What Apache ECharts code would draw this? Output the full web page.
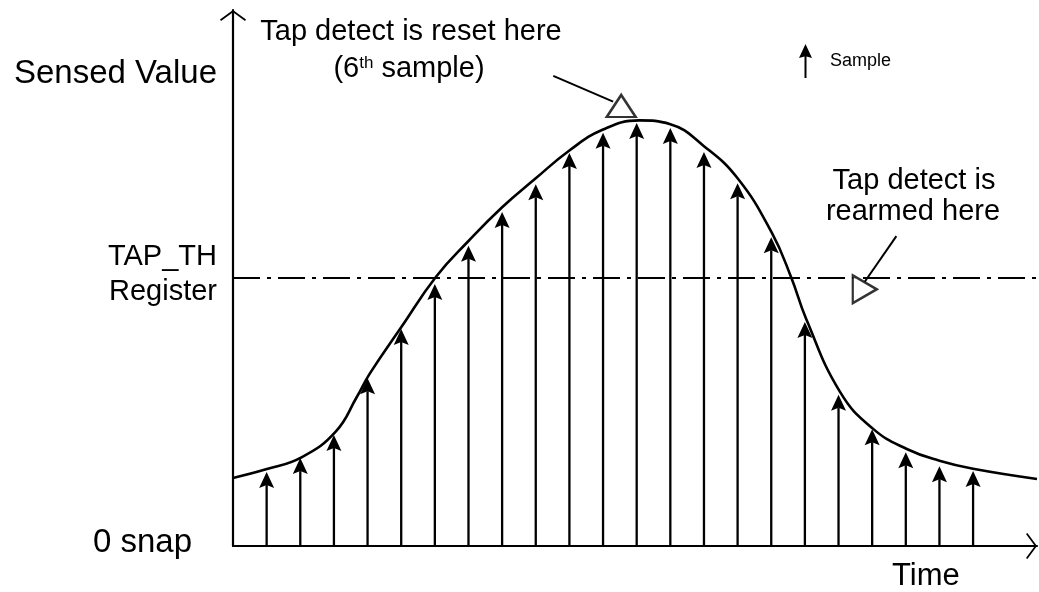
<!DOCTYPE html>
<html>
<head>
<meta charset="utf-8">
<title>Tap detect</title>
<script src="https://cdn.jsdelivr.net/npm/echarts@6/dist/echarts.min.js"></script>
<style>
  html, body { margin: 0; padding: 0; background: #fff; }
  #main { width: 1039px; height: 592px; }
</style>
</head>
<body>
<div id="main"></div>
<script>
    // samples (time index) and sensed value at arrow tip, 0..100 scale
    var sampleX = [1, 2, 3, 4, 5, 6, 7, 8, 9, 10, 11, 12, 13, 14, 15, 16, 17, 18, 19, 20, 21, 22]
    var sampleY = [13.8, 16.4, 20.7, 31.3, 40.5, 48.9, 56.0, 62.3, 67.5, 73.3, 77.1, 78.9,
                   78.0, 73.5, 67.7, 57.6, 41.8, 28.2, 21.8, 17.5, 14.9, 14.0]

    // the continuous sensed signal
    var curveX = [0, 0.98, 2.05, 3.06, 3.68, 4.07, 5.02, 6.03, 7.0, 8.0, 9.0, 10.0, 11.0,
                  12.07, 13.0, 14.0, 15.0, 16.02, 16.6, 17.03, 18.04, 19.02, 20.03, 21.0, 22.0, 23.9]
    var curveY = [12.7, 14.3, 16.6, 21.4, 27.8, 32.2, 41.0, 50.2, 56.9, 63.2, 68.6, 73.8, 77.7,
                  79.4, 78.7, 74.6, 68.6, 58.4, 50.0, 42.5, 28.8, 21.9, 18.1, 15.9, 14.4, 12.5]

    var TAP_TH = 50

    // annotation markers (open triangles) and their leader lines
    var triX = [11.54, 18.78]
    var triY = [82.1, 47.9]
    var triRot = [0, -90]
    var triSize = [[29, 22], [28, 24]]
    var leaderFrom = [[9.52, 87.7], [19.72, 57.8]]
    var leaderTo = [[11.30, 82.9], [18.78, 49.3]]

    var FONT = 'Liberation Sans, Arial, sans-serif'
    var CHEVRON = 'path://M13,0 L26,9.6 L25,11 L13,2.2 L1,11 L0,9.6 Z'
    var ARROW_ICON = 'path://M6.5,0 L13,14 L7.5,12.5 L7.5,34 L5.5,34 L5.5,12.5 L0,14 Z'

    var myChart = echarts.init(document.getElementById('main'))

    var samples = sampleX.map(function (x, i) { return [x, sampleY[i]] })
    var curve = curveX.map(function (x, i) { return [x, curveY[i]] })
    var tris = triX.map(function (x, i) {
        return { value: [x, triY[i]], symbolRotate: triRot[i], symbolSize: triSize[i] }
    })
    var leaders = leaderFrom.map(function (p, i) { return { coords: [p, leaderTo[i]] } })

    function txt(text, x, y, size, align) {
        return {
            type: 'text', x: x, y: y, silent: true,
            style: { text: text, fontSize: size, fontFamily: FONT, fill: '#000',
                     align: align, verticalAlign: 'middle' }
        }
    }

    var option = {
        animation: false,
        backgroundColor: '#fff',
        grid: { left: 233, right: 2, top: 10, bottom: 46 },
        xAxis: {
            type: 'value', min: 0, max: 23.9,
            axisLine: { lineStyle: { color: '#000', width: 2.2 },
                        symbol: ['none', CHEVRON], symbolSize: [26, 11], symbolOffset: [0, -5.5] },
            axisTick: { show: false }, axisLabel: { show: false }, splitLine: { show: false }
        },
        yAxis: {
            type: 'value', min: 0, max: 100,
            axisLine: { show: true, lineStyle: { color: '#000', width: 2.2 },
                        symbol: ['none', CHEVRON], symbolSize: [26, 11], symbolOffset: [0, -5.5] },
            axisTick: { show: false }, axisLabel: { show: false }, splitLine: { show: false }
        },
        legend: {
            data: [{ name: 'Sample', icon: ARROW_ICON }],
            left: 794, top: 39, itemWidth: 39, itemHeight: 34,
            selectedMode: false,
            textStyle: { fontSize: 18, fontFamily: FONT, color: '#000' }
        },
        series: [
            {
                name: 'Sensed',
                type: 'line',
                data: curve,
                smooth: 0.45,
                showSymbol: false,
                silent: true,
                lineStyle: { color: '#000', width: 2.6 },
                markLine: {   // TAP_TH register level
                    silent: true,
                    symbol: ['none', 'none'],
                    label: { show: false },
                    lineStyle: { color: '#000', width: 2, type: [27, 7, 4, 7] },
                    data: [{ yAxis: TAP_TH }]
                },
                z: 3
            },
            {
                name: 'Sample',
                type: 'custom',
                data: samples,
                clip: false,
                itemStyle: { color: '#000' },
                renderItem: function (params, api) {
                    var base = api.coord([api.value(0), 0])
                    var tip = api.coord([api.value(0), api.value(1)])
                    var hw = 7.5, hh = 16
                    return {
                        type: 'group',
                        children: [
                            { type: 'line',
                              shape: { x1: base[0], y1: base[1], x2: tip[0], y2: tip[1] + hh - 3 },
                              style: { stroke: '#000', lineWidth: 2.3 } },
                            { type: 'polygon',
                              shape: { points: [[tip[0], tip[1]], [tip[0] + hw, tip[1] + hh],
                                                [tip[0], tip[1] + hh - 3], [tip[0] - hw, tip[1] + hh]] },
                              style: { fill: '#000' } }
                        ]
                    }
                },
                z: 2
            },
            {
                name: 'leaders',
                type: 'lines',
                coordinateSystem: 'cartesian2d',
                silent: true,
                lineStyle: { color: '#000', width: 2, opacity: 1 },
                data: leaders,
                z: 4
            },
            {
                name: 'markers',
                type: 'scatter',
                symbol: 'triangle',
                silent: true,
                data: tris,
                itemStyle: { color: '#fff', borderColor: '#000', borderWidth: 2.4 },
                z: 5
            }
        ],
        graphic: [
            txt('Sensed Value', 217, 74, 33, 'right'),
            txt('TAP_TH', 217, 257, 29, 'right'),
            txt('Register', 217, 292, 29, 'right'),
            txt('0 snap', 192, 543, 33, 'right'),
            txt('Time', 892, 576, 31, 'left'),
            txt('Tap detect is reset here', 411, 32, 29, 'center'),
            {
                type: 'text', x: 409, y: 69, silent: true,
                style: {
                    text: '(6{sup|th} sample)',
                    fontSize: 29, fontFamily: FONT, fill: '#000',
                    align: 'center', verticalAlign: 'middle',
                    rich: { sup: { fontSize: 17, fontFamily: FONT, verticalAlign: 'top', fill: '#000' } }
                }
            },
            txt('Tap detect is', 914, 181, 29, 'center'),
            txt('rearmed here', 913, 212, 29, 'center')
        ]
    }
    myChart.setOption(option)
</script>
</body>
</html>
